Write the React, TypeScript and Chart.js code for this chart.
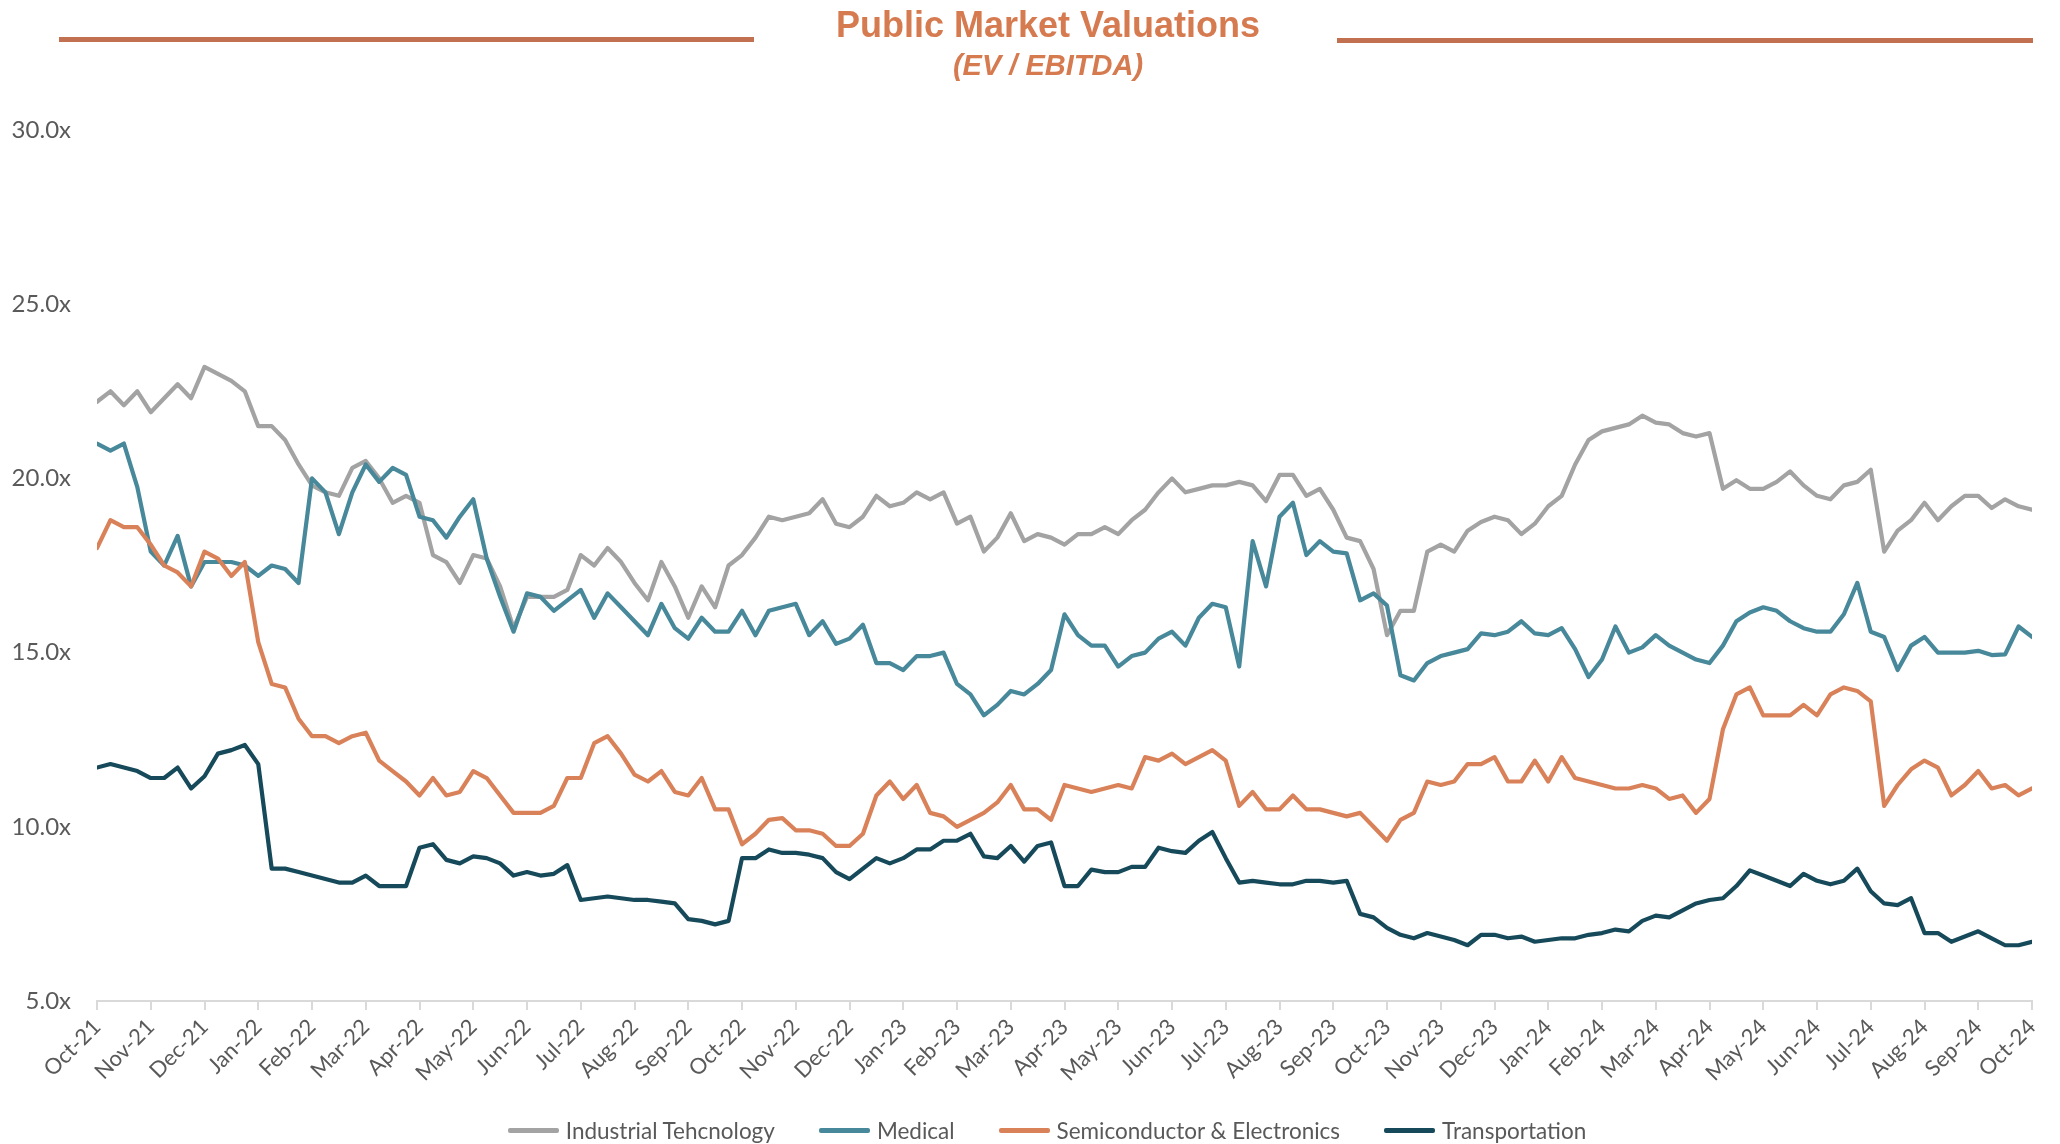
import React, { useEffect, useRef } from "react";
import { Chart, registerables } from "chart.js";

Chart.register(...registerables);

// Month tick labels (x axis), one per month
const monthLabels = [
  "Oct-21", "Nov-21", "Dec-21", "Jan-22", "Feb-22", "Mar-22", "Apr-22", "May-22", "Jun-22",
  "Jul-22", "Aug-22", "Sep-22", "Oct-22", "Nov-22", "Dec-22", "Jan-23", "Feb-23", "Mar-23",
  "Apr-23", "May-23", "Jun-23", "Jul-23", "Aug-23", "Sep-23", "Oct-23", "Nov-23", "Dec-23",
  "Jan-24", "Feb-24", "Mar-24", "Apr-24", "May-24", "Jun-24", "Jul-24", "Aug-24", "Sep-24",
  "Oct-24",
];

// Weekly readings (4 per month), Oct-21 .. Oct-24
const industrialTech = [
  22.2, 22.5, 22.1, 22.5, 21.9, 22.3, 22.7, 22.3, 23.2, 23.0, 22.8, 22.5,
  21.5, 21.5, 21.1, 20.4, 19.8, 19.6, 19.5, 20.3, 20.5, 20.0, 19.3, 19.5,
  19.3, 17.8, 17.6, 17.0, 17.8, 17.7, 16.9, 15.7, 16.6, 16.6, 16.6, 16.8,
  17.8, 17.5, 18.0, 17.6, 17.0, 16.5, 17.6, 16.9, 16.0, 16.9, 16.3, 17.5,
  17.8, 18.3, 18.9, 18.8, 18.9, 19.0, 19.4, 18.7, 18.6, 18.9, 19.5, 19.2,
  19.3, 19.6, 19.4, 19.6, 18.7, 18.9, 17.9, 18.3, 19.0, 18.2, 18.4, 18.3,
  18.1, 18.4, 18.4, 18.6, 18.4, 18.8, 19.1, 19.6, 20.0, 19.6, 19.7, 19.8,
  19.8, 19.9, 19.8, 19.35, 20.1, 20.1, 19.5, 19.7, 19.1, 18.3, 18.2, 17.4,
  15.5, 16.2, 16.2, 17.9, 18.1, 17.9, 18.5, 18.75, 18.9, 18.8, 18.4, 18.7,
  19.2, 19.5, 20.4, 21.1, 21.35, 21.45, 21.55, 21.8, 21.6, 21.55, 21.3, 21.2,
  21.3, 19.7, 19.95, 19.7, 19.7, 19.9, 20.2, 19.8, 19.5, 19.4, 19.8, 19.9,
  20.25, 17.9, 18.5, 18.8, 19.3, 18.8, 19.2, 19.5, 19.5, 19.15, 19.4, 19.2,
  19.1,
];

const medical = [
  21.0, 20.8, 21.0, 19.75, 17.9, 17.5, 18.35, 16.9, 17.6, 17.6, 17.6, 17.5,
  17.2, 17.5, 17.4, 17.0, 20.0, 19.6, 18.4, 19.6, 20.4, 19.9, 20.3, 20.1,
  18.9, 18.8, 18.3, 18.9, 19.4, 17.7, 16.6, 15.6, 16.7, 16.6, 16.2, 16.5,
  16.8, 16.0, 16.7, 16.3, 15.9, 15.5, 16.4, 15.7, 15.4, 16.0, 15.6, 15.6,
  16.2, 15.5, 16.2, 16.3, 16.4, 15.5, 15.9, 15.25, 15.4, 15.8, 14.7, 14.7,
  14.5, 14.9, 14.9, 15.0, 14.1, 13.8, 13.2, 13.5, 13.9, 13.8, 14.1, 14.5,
  16.1, 15.5, 15.2, 15.2, 14.6, 14.9, 15.0, 15.4, 15.6, 15.2, 16.0, 16.4,
  16.3, 14.6, 18.2, 16.9, 18.9, 19.3, 17.8, 18.2, 17.9, 17.85, 16.5, 16.7,
  16.35, 14.35, 14.2, 14.7, 14.9, 15.0, 15.1, 15.55, 15.5, 15.6, 15.9, 15.55,
  15.5, 15.7, 15.1, 14.3, 14.8, 15.75, 15.0, 15.15, 15.5, 15.2, 15.0, 14.8,
  14.7, 15.2, 15.9, 16.15, 16.3, 16.2, 15.9, 15.7, 15.6, 15.6, 16.1, 17.0,
  15.6, 15.45, 14.5, 15.2, 15.45, 15.0, 15.0, 15.0, 15.05, 14.93, 14.95, 15.75,
  15.45,
];

const semiconductor = [
  18.0, 18.8, 18.6, 18.6, 18.1, 17.5, 17.3, 16.9, 17.9, 17.7, 17.2, 17.6,
  15.3, 14.1, 14.0, 13.1, 12.6, 12.6, 12.4, 12.6, 12.7, 11.9, 11.6, 11.3,
  10.9, 11.4, 10.9, 11.0, 11.6, 11.4, 10.9, 10.4, 10.4, 10.4, 10.6, 11.4,
  11.4, 12.4, 12.6, 12.1, 11.5, 11.3, 11.6, 11.0, 10.9, 11.4, 10.5, 10.5,
  9.5, 9.8, 10.2, 10.25, 9.9, 9.9, 9.8, 9.45, 9.45, 9.8, 10.9, 11.3,
  10.8, 11.2, 10.4, 10.3, 10.0, 10.2, 10.4, 10.7, 11.2, 10.5, 10.5, 10.2,
  11.2, 11.1, 11.0, 11.1, 11.2, 11.1, 12.0, 11.9, 12.1, 11.8, 12.0, 12.2,
  11.9, 10.6, 11.0, 10.5, 10.5, 10.9, 10.5, 10.5, 10.4, 10.3, 10.4, 10.0,
  9.6, 10.2, 10.4, 11.3, 11.2, 11.3, 11.8, 11.8, 12.0, 11.3, 11.3, 11.9,
  11.3, 12.0, 11.4, 11.3, 11.2, 11.1, 11.1, 11.2, 11.1, 10.8, 10.9, 10.4,
  10.8, 12.8, 13.8, 14.0, 13.2, 13.2, 13.2, 13.5, 13.2, 13.8, 14.0, 13.9,
  13.6, 10.6, 11.2, 11.65, 11.9, 11.7, 10.9, 11.2, 11.6, 11.1, 11.2, 10.9,
  11.1,
];

const transportation = [
  11.7, 11.8, 11.7, 11.6, 11.4, 11.4, 11.7, 11.1, 11.45, 12.1, 12.2, 12.35,
  11.8, 8.8, 8.8, 8.7, 8.6, 8.5, 8.4, 8.4, 8.6, 8.3, 8.3, 8.3,
  9.4, 9.5, 9.05, 8.95, 9.15, 9.1, 8.95, 8.6, 8.7, 8.6, 8.65, 8.9,
  7.9, 7.95, 8.0, 7.95, 7.9, 7.9, 7.85, 7.8, 7.35, 7.3, 7.2, 7.3,
  9.1, 9.1, 9.35, 9.25, 9.25, 9.2, 9.1, 8.7, 8.5, 8.8, 9.1, 8.95,
  9.1, 9.35, 9.35, 9.6, 9.6, 9.8, 9.15, 9.1, 9.45, 9.0, 9.45, 9.55,
  8.3, 8.3, 8.77, 8.7, 8.7, 8.85, 8.85, 9.4, 9.3, 9.25, 9.6, 9.85,
  9.1, 8.4, 8.45, 8.4, 8.35, 8.35, 8.45, 8.45, 8.4, 8.45, 7.5, 7.4,
  7.1, 6.9, 6.8, 6.95, 6.85, 6.75, 6.6, 6.9, 6.9, 6.8, 6.85, 6.7,
  6.75, 6.8, 6.8, 6.9, 6.95, 7.05, 7.0, 7.3, 7.45, 7.4, 7.6, 7.8,
  7.9, 7.95, 8.3, 8.75, 8.6, 8.45, 8.3, 8.65, 8.45, 8.35, 8.45, 8.8,
  8.15, 7.8, 7.75, 7.95, 6.95, 6.95, 6.7, 6.85, 7.0, 6.8, 6.6, 6.6,
  6.7,
];

const seriesNames = ["Industrial Tehcnology", "Medical", "Semiconductor & Electronics", "Transportation"];
const seriesColors = ["#A3A3A3", "#47889A", "#D9825A", "#164A5B"];
const yTickValues = [5, 10, 15, 20, 25, 30];
const samplesPerMonth = 4;

const axisFont = "Lato, 'Open Sans', sans-serif";
const textGray = "#595959";
const titleColor = "#D67A50";
const ruleColor = "#C27150";

export default function App() {
  const canvasRef = useRef<HTMLCanvasElement | null>(null);

  useEffect(() => {
    const canvas = canvasRef.current;
    if (!canvas) return;
    const allSeries = [industrialTech, medical, semiconductor, transportation];
    const chart = new Chart(canvas, {
      type: "line",
      data: {
        datasets: allSeries.map((vals, k) => ({
          label: seriesNames[k],
          data: vals.map((v, i) => ({ x: i / samplesPerMonth, y: v })),
          borderColor: seriesColors[k],
          backgroundColor: seriesColors[k],
          borderWidth: 4.2,
          pointRadius: 0,
          tension: 0,
          fill: false,
          borderJoinStyle: "round",
          borderCapStyle: "round",
          order: 4 - k,
        })),
      },
      options: {
        animation: false,
        responsive: false,
        maintainAspectRatio: false,
        devicePixelRatio: 1,
        layout: { padding: { left: 0, right: 28, top: 130, bottom: 0 } },
        plugins: {
          legend: { display: false },
          title: { display: false },
          tooltip: { enabled: false },
        },
        scales: {
          x: {
            type: "linear",
            min: 0,
            max: monthLabels.length - 1,
            afterBuildTicks: (scale: any) => {
              scale.ticks = monthLabels.map((_, i) => ({ value: i }));
            },
            afterFit: (scale: any) => {
              scale.height = 143;
            },
            ticks: {
              autoSkip: false,
              minRotation: 45,
              maxRotation: 45,
              padding: 4,
              color: textGray,
              font: { family: axisFont, size: 22 },
              callback: (v: any) => monthLabels[Math.round(Number(v))] ?? "",
            },
            grid: {
              display: true,
              drawOnChartArea: false,
              drawTicks: true,
              tickLength: 9,
              color: "#D9D9D9",
              lineWidth: 2,
            },
            border: { display: true, color: "#D9D9D9", width: 2 },
          },
          y: {
            type: "linear",
            min: 5,
            max: 30,
            afterBuildTicks: (scale: any) => {
              scale.ticks = yTickValues.map((v) => ({ value: v }));
            },
            afterFit: (scale: any) => {
              scale.width = 97;
            },
            ticks: {
              padding: 26,
              color: textGray,
              font: { family: axisFont, size: 24 },
              callback: (v: any) => Number(v).toFixed(1) + "x",
            },
            grid: { display: false, drawTicks: false },
            border: { display: false },
          },
        },
      },
    });
    return () => chart.destroy();
  }, []);

  return (
    <div style={{ position: "absolute", left: 0, top: 0, width: 2060, height: 1144, background: "#fff", overflow: "hidden" }}>
      <canvas ref={canvasRef} width={2060} height={1144} style={{ position: "absolute", left: 0, top: 0, width: 2060, height: 1144 }} />
      <div style={{ position: "absolute", left: 59, top: 37, width: 695, height: 5, background: ruleColor }} />
      <div style={{ position: "absolute", left: 1337, top: 38, width: 696, height: 5, background: ruleColor }} />
      <div
        style={{
          position: "absolute", left: 748, width: 600, top: 7, textAlign: "center",
          fontFamily: "'Liberation Sans', Arial, sans-serif", fontWeight: 700, fontSize: 36, lineHeight: "36px", color: titleColor,
        }}
      >
        Public Market Valuations
      </div>
      <div
        style={{
          position: "absolute", left: 748, width: 600, top: 51, textAlign: "center",
          fontFamily: "'Liberation Sans', Arial, sans-serif", fontWeight: 700, fontStyle: "italic", fontSize: 29, lineHeight: "29px", color: titleColor,
        }}
      >
        (EV / EBITDA)
      </div>
      <div
        style={{
          position: "absolute", left: 0, width: 2094, top: 1116, height: 28, display: "flex",
          justifyContent: "center", alignItems: "center", gap: 44,
          fontFamily: axisFont, fontSize: 22.5, color: textGray, whiteSpace: "nowrap",
        }}
      >
        {seriesNames.map((name, k) => (
          <div key={name} style={{ display: "flex", alignItems: "center", gap: 7 }}>
            <div style={{ width: 51, height: 5, background: seriesColors[k], borderRadius: 2 }} />
            <span>{name}</span>
          </div>
        ))}
      </div>
    </div>
  );
}
